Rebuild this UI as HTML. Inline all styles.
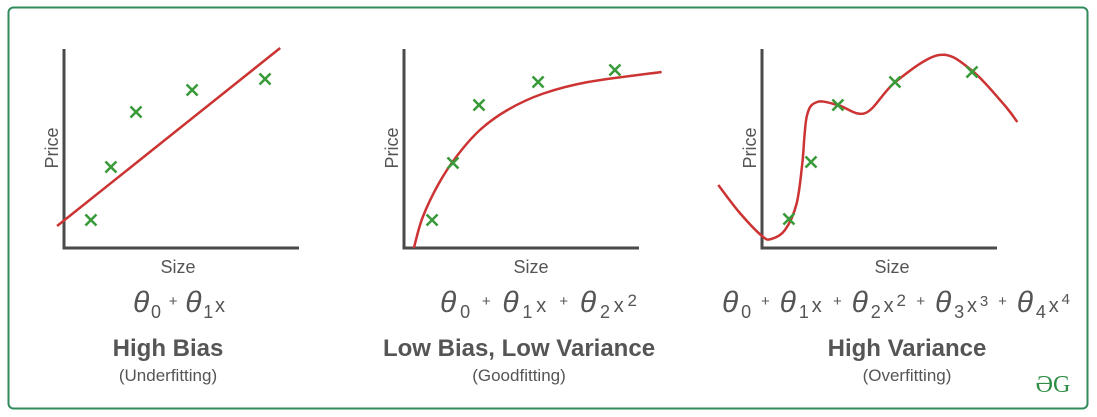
<!DOCTYPE html>
<html><head><meta charset="utf-8"><style>
body{margin:0;background:#fff;width:1097px;height:417px;overflow:hidden;font-family:"Liberation Sans",sans-serif}
svg{position:absolute;left:0;top:0}
</style></head><body>
<svg width="1097" height="417" id="s">
<rect x="8.5" y="7.5" width="1079" height="401" rx="5" fill="none" stroke="#2f8d5a" stroke-width="2"/>
<g id="plots"></g>
<g fill="#555" text-anchor="middle">
<text x="178" y="273" font-size="18">Size</text>
<text x="531" y="273" font-size="18">Size</text>
<text x="892" y="273" font-size="18">Size</text>
<text transform="translate(58,148) rotate(-90)" font-size="18">Price</text>
<text transform="translate(398,148) rotate(-90)" font-size="18">Price</text>
<text transform="translate(756,148) rotate(-90)" font-size="18">Price</text>
<text x="133" y="312" text-anchor="start" font-size="30" textLength="92" lengthAdjust="spacing"><tspan font-style="italic">θ</tspan><tspan font-size="18" dy="6">0</tspan><tspan font-size="15" dy="-12"> + </tspan><tspan font-style="italic" dy="6">θ</tspan><tspan font-size="18" dy="6">1</tspan><tspan font-size="20" dy="-6">x</tspan></text>
<text x="440" y="312" text-anchor="start" font-size="30" textLength="197" lengthAdjust="spacing"><tspan font-style="italic">θ</tspan><tspan font-size="18" dy="6">0</tspan><tspan font-size="15" dy="-12"> + </tspan><tspan font-style="italic" dy="6">θ</tspan><tspan font-size="18" dy="6">1</tspan><tspan font-size="20" dy="-6">x </tspan><tspan font-size="15" dy="-6"> + </tspan><tspan font-style="italic" dy="6">θ</tspan><tspan font-size="18" dy="6">2</tspan><tspan font-size="20" dy="-6">x</tspan><tspan font-size="17" dy="-6">2</tspan></text>
<text x="722" y="312" text-anchor="start" font-size="30" textLength="348" lengthAdjust="spacing"><tspan font-style="italic">θ</tspan><tspan font-size="18" dy="6">0</tspan><tspan font-size="15" dy="-12"> + </tspan><tspan font-style="italic" dy="6">θ</tspan><tspan font-size="18" dy="6">1</tspan><tspan font-size="20" dy="-6">x </tspan><tspan font-size="15" dy="-6"> + </tspan><tspan font-style="italic" dy="6">θ</tspan><tspan font-size="18" dy="6">2</tspan><tspan font-size="20" dy="-6">x</tspan><tspan font-size="17" dy="-6">2 </tspan><tspan font-size="15"> + </tspan><tspan font-style="italic" dy="6">θ</tspan><tspan font-size="18" dy="6">3</tspan><tspan font-size="20" dy="-6">x</tspan><tspan font-size="15" dy="-6">3</tspan><tspan font-size="15"> + </tspan><tspan font-style="italic" dy="6">θ</tspan><tspan font-size="18" dy="6">4</tspan><tspan font-size="20" dy="-6">x</tspan><tspan font-size="15" dy="-8">4</tspan></text>
<text x="168" y="356" font-size="24" font-weight="bold">High Bias</text>
<text x="168" y="381" font-size="17">(Underfitting)</text>
<text x="519" y="356" font-size="24" font-weight="bold">Low Bias, Low Variance</text>
<text x="519" y="381" font-size="17">(Goodfitting)</text>
<text x="907" y="356" font-size="24" font-weight="bold">High Variance</text>
<text x="907" y="381" font-size="17">(Overfitting)</text>
<text x="1053" y="392" font-size="24" fill="#2f8d46" font-family="Liberation Serif,serif">ƏG</text>
</g>
</svg>
<script>
const axisOrigins = [64, 404, 762];
const pointsX1 = [1.17, 2.04, 3.13, 5.57, 8.74];
const pointsY1 = [1.4, 4.05, 6.8, 7.9, 8.45];
const pointsX2 = [1.22, 2.13, 3.26, 5.83, 9.17];
const pointsY2 = [1.4, 4.25, 7.15, 8.3, 8.9];
const pointsX3 = [1.17, 2.13, 3.3, 5.78, 9.13];
const pointsY3 = [1.45, 4.3, 7.15, 8.3, 8.8];
const curveX1 = [-0.3, 9.4];
const curveY1 = [1.1, 10];
const curveX2 = [0.43, 0.8, 1.5, 2.3, 3.3, 4.5, 6, 8, 11.2];
const curveY2 = [0, 1.5, 3.2, 4.6, 5.9, 6.9, 7.7, 8.3, 8.8];
const curveX3 = [-1.9, -1, 0, 0.4, 1, 1.5, 1.75, 1.95, 2.4, 3.3, 4.5, 5.8, 7.7, 9.1, 10.5, 11.1];
const curveY3 = [3.15, 1.8, 0.6, 0.45, 0.9, 2.2, 4.2, 6.6, 7.3, 7.15, 6.75, 8.3, 9.65, 8.9, 7.2, 6.3];
const NS = "http://www.w3.org/2000/svg";
const g = document.getElementById('plots');
function sx(o, v){ return o + v * 23; }
function sy(v){ return 248 - v * 20; }
function mk(tag, attrs){ const e = document.createElementNS(NS, tag); for (const k in attrs) e.setAttribute(k, attrs[k]); g.appendChild(e); return e; }
function smooth(pts){
  if (pts.length === 2) return `M${pts[0][0]},${pts[0][1]}L${pts[1][0]},${pts[1][1]}`;
  let d = `M${pts[0][0]},${pts[0][1]}`;
  for (let i = 0; i < pts.length - 1; i++) {
    const p0 = pts[Math.max(0, i - 1)], p1 = pts[i], p2 = pts[i + 1], p3 = pts[Math.min(pts.length - 1, i + 2)];
    const c1 = [p1[0] + (p2[0] - p0[0]) / 6, p1[1] + (p2[1] - p0[1]) / 6];
    const c2 = [p2[0] - (p3[0] - p1[0]) / 6, p2[1] - (p3[1] - p1[1]) / 6];
    d += `C${c1[0]},${c1[1]} ${c2[0]},${c2[1]} ${p2[0]},${p2[1]}`;
  }
  return d;
}
const sets = [[pointsX1, pointsY1, curveX1, curveY1], [pointsX2, pointsY2, curveX2, curveY2], [pointsX3, pointsY3, curveX3, curveY3]];
sets.forEach((s, i) => {
  const o = axisOrigins[i];
  const ax = mk('path', {d: `M${o},49V248H${o + 235}`, fill: 'none', stroke: '#4a4a4a', 'stroke-width': 3});
  
  
  const pts = s[2].map((x, j) => [sx(o, x), sy(s[3][j])]);
  const c = mk('path', {d: smooth(pts), fill: 'none', stroke: '#cc3333', 'stroke-width': 2.5});
  
  
  s[0].forEach((x, j) => {
    const px = sx(o, x), py = sy(s[1][j]);
    const m = mk('path', {d: `M${px - 5.5},${py - 5.5}L${px + 5.5},${py + 5.5}M${px + 5.5},${py - 5.5}L${px - 5.5},${py + 5.5}`, stroke: '#3a9a3a', 'stroke-width': 2.6});
    
    
  });
});
</script>
</body></html>
